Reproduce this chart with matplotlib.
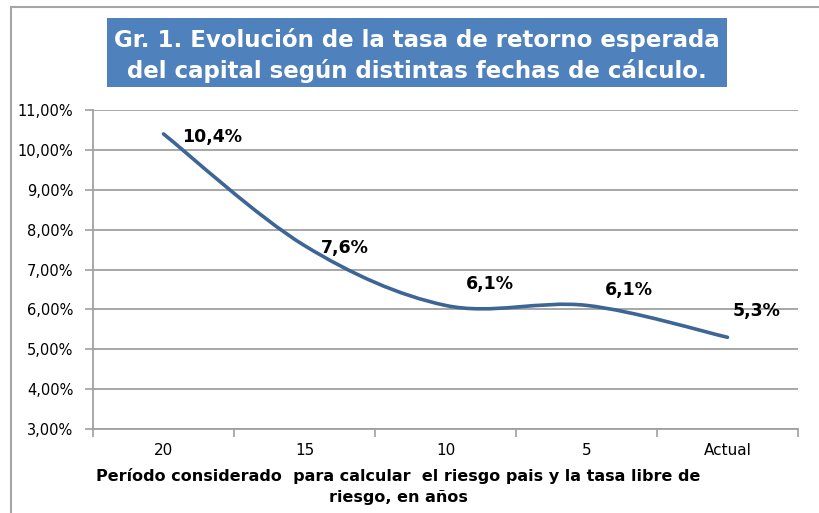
import matplotlib
matplotlib.use('Agg')
import matplotlib.pyplot as plt
from matplotlib.path import Path
from matplotlib.patches import PathPatch, Rectangle
from matplotlib.lines import Line2D
import numpy as np

# data
categorias = ['20', '15', '10', '5', 'Actual']
tasa = [10.4, 7.6, 6.1, 6.1, 5.3]
etiquetas = ['10,4%', '7,6%', '6,1%', '6,1%', '5,3%']
yticks = [3, 4, 5, 6, 7, 8, 9, 10, 11]

plt.rcParams['font.family'] = ['DejaVu Sans']

azul_linea = '#3D6596'
azul_titulo = '#4F81BD'
gris = '#A0A0A0'

W, H = 820, 513
fig = plt.figure(figsize=(W/100, H/100), dpi=100)
ax = fig.add_axes([93/W, 1-429/H, (798-93)/W, (429-110)/H])

# smoothed line (bezier through the points, like excel)
x = np.arange(len(tasa), dtype=float)
y = np.array(tasa)
pts = np.column_stack([x, y])
n = len(pts)
verts = [pts[0]]
codes = [Path.MOVETO]
for i in range(n-1):
    p_prev = pts[i-1] if i > 0 else pts[i]
    p_next2 = pts[i+2] if i+2 < n else pts[i+1]
    c1 = pts[i] + (pts[i+1]-p_prev)/6
    c2 = pts[i+1] - (p_next2-pts[i])/6
    verts += [c1, c2, pts[i+1]]
    codes += [Path.CURVE4]*3
ax.add_patch(PathPatch(Path(verts, codes), fill=False, edgecolor=azul_linea,
                       lw=2.6, capstyle='round', joinstyle='round', zorder=3))

offs = [(49, -3), (40, -2), (44, 21), (42, 15), (29, 26)]
for xi, yi, lab, o in zip(x, y, etiquetas, offs):
    ax.annotate(lab, (xi, yi), xytext=o, textcoords='offset pixels',
                ha='center', va='center', fontsize=12.5, fontweight='bold')

ax.set_xlim(-0.5, len(categorias)-0.5)
ax.set_ylim(3, 11)
ax.set_yticks(yticks)
ax.set_yticklabels([('%.2f%%' % v).replace('.', ',') for v in yticks])
ax.set_xticks(x)
ax.set_xticklabels(categorias)
ax.set_xticks(np.arange(-0.5, len(categorias), 1), minor=True)
ax.tick_params(axis='x', which='major', length=0, pad=10, labelsize=11)
ax.tick_params(axis='x', which='minor', length=6, color=gris, width=1.2, direction='out')
ax.tick_params(axis='y', length=6, color=gris, width=1.2, labelsize=10.5, pad=8)
ax.grid(axis='y', color=gris, lw=1.3)
ax.set_axisbelow(True)
for s in ['top', 'right']:
    ax.spines[s].set_visible(False)
for s in ['left', 'bottom']:
    ax.spines[s].set_color(gris)
    ax.spines[s].set_linewidth(1.3)

# titulo
fig.add_artist(Rectangle((107/W, 1-87/H), 620/W, 69/H, transform=fig.transFigure,
                         facecolor=azul_titulo, edgecolor='none'))
fig.text(417/W, 1-47/H, 'Gr. 1. Evolución de la tasa de retorno esperada',
         ha='center', va='baseline', color='white', fontsize=16.5, fontweight='bold')
fig.text(417/W, 1-78/H, 'del capital según distintas fechas de cálculo.',
         ha='center', va='baseline', color='white', fontsize=16.5, fontweight='bold')

fig.text(398/W, 1-481/H, 'Período considerado  para calcular  el riesgo pais y la tasa libre de',
         ha='center', va='baseline', fontsize=11.5, fontweight='bold')
fig.text(398/W, 1-502/H, 'riesgo, en años',
         ha='center', va='baseline', fontsize=11.5, fontweight='bold')

# borde exterior
fig.add_artist(Line2D([11/W, 11/W], [0, 1-7/H], transform=fig.transFigure, color='#A6A6A6', lw=1.5))
fig.add_artist(Line2D([11/W, 1], [1-7/H, 1-7/H], transform=fig.transFigure, color='#A6A6A6', lw=1.5))

plt.savefig('out.png', dpi=100)
